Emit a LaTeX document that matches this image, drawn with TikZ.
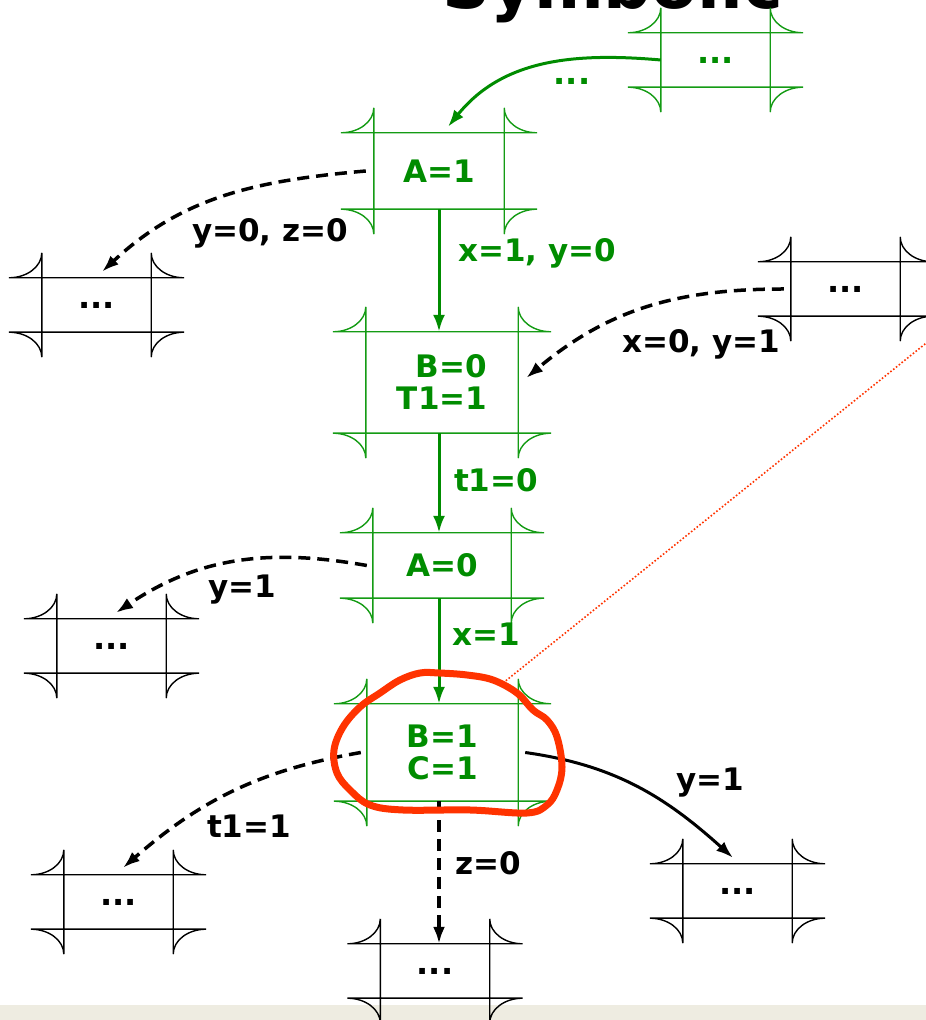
\documentclass[tikz,border=0pt]{standalone}
\usepackage{fontspec}
\setmainfont{DejaVu Sans}
\usetikzlibrary{arrows.meta}

\definecolor{stgreen}{RGB}{0,140,0}
\definecolor{boxgreen}{RGB}{20,155,20}
\definecolor{markred}{RGB}{255,51,0}
\definecolor{slidebg}{RGB}{238,236,225}

\tikzset{
  state/.style={rectangle, inner sep=0pt, align=center,
    font=\fontsize{31}{32}\selectfont\bfseries},
  dots/.style={font=\fontsize{32}{32}\selectfont\bfseries},
  lbl/.style={inner sep=0pt, anchor=base,
    font=\fontsize{31}{32}\selectfont\bfseries},
  flow/.style={stgreen, line width=3pt, -{Latex[length=17pt,width=12pt]}},
  guard/.style={black, line width=3.5pt, dash pattern=on 12pt off 7pt,
    -{Latex[length=17pt,width=12pt]}},
  solidarrow/.style={black, line width=3pt, -{Latex[length=17pt,width=12pt]}},
  scribble/.style={markred, line width=7pt, line join=round}
}

% frame of a state: crossing lines with rounded corners outside
\newcommand{\stframe}[2]{%
  \draw[#2, line width=1.4pt]
    ([xshift=-33pt]#1.north west) -- ([xshift=33pt]#1.north east)
    ([xshift=-33pt]#1.south west) -- ([xshift=33pt]#1.south east)
    ([yshift=25pt]#1.north west) -- ([yshift=-25pt]#1.south west)
    ([yshift=25pt]#1.north east) -- ([yshift=-25pt]#1.south east)
    ([xshift=-33pt]#1.north west) arc[start angle=270, end angle=360, x radius=33pt, y radius=25pt]
    ([xshift=33pt]#1.north east) arc[start angle=270, end angle=180, x radius=33pt, y radius=25pt]
    ([xshift=-33pt]#1.south west) arc[start angle=90, end angle=0, x radius=33pt, y radius=25pt]
    ([xshift=33pt]#1.south east) arc[start angle=90, end angle=180, x radius=33pt, y radius=25pt];
}

\begin{document}
\begin{tikzpicture}[x=1pt, y=1pt]
    \useasboundingbox (0,0) rectangle (926,1020);
    \clip (0,0) rectangle (926,1020);
    \fill[slidebg] (0,0) rectangle (926,15);

    \node[inner sep=0pt, anchor=base west, font=\fontsize{67}{67}\selectfont\bfseries] (title) at (442,1011) {Symbolic};

    % states on the path
    \node[state, text=stgreen, minimum width=109pt, minimum height=54pt, dots] (prev) at (715.5,960) {...};
    \node[state, text=stgreen, minimum width=130pt, minimum height=76pt] (a1) at (439,849) {A=1};
    \node[state, text=stgreen, minimum width=152pt, minimum height=101pt, align=right] (b0) at (442,637.5) {B=0\\T1=1};
    \node[state, text=stgreen, minimum width=138pt, minimum height=65pt] (a0) at (442,454.5) {A=0};
    \node[state, text=stgreen, minimum width=151pt, minimum height=97pt] (b1) at (442.5,267.5) {B=1\\C=1};
    \stframe{prev}{boxgreen}
    \stframe{a1}{boxgreen}
    \stframe{b0}{boxgreen}
    \stframe{a0}{boxgreen}
    \stframe{b1}{boxgreen}

    % other states
    \node[state, minimum width=109pt, minimum height=54pt, dots] (outA) at (96.5,715) {...};
    \node[state, minimum width=109pt, minimum height=54pt, dots] (inB) at (845.5,731) {...};
    \node[state, minimum width=109pt, minimum height=54pt, dots] (outC) at (111.5,374) {...};
    \node[state, minimum width=109pt, minimum height=54pt, dots] (outD) at (118.5,118) {...};
    \node[state, minimum width=109pt, minimum height=54pt, dots] (outE) at (737.5,129) {...};
    \node[state, minimum width=109pt, minimum height=54pt, dots] (outF) at (435,49) {...};
    \stframe{outA}{black}
    \stframe{inB}{black}
    \stframe{outC}{black}
    \stframe{outD}{black}
    \stframe{outE}{black}
    \stframe{outF}{black}

    % transitions
    \draw[flow] (prev.west) to[out=175, in=51] ([xshift=9pt,yshift=6pt]a1.north);
    \draw[guard] ([xshift=-8pt]a1.west) to[out=185, in=43] ([xshift=5.5pt,yshift=6pt]outA.north);
    \draw[flow] (a1.south) -- (a1.south |- b0.north);
    \draw[guard] ([xshift=-7pt]inB.west) to[out=180, in=40] ([xshift=8pt,yshift=4.5pt]b0.east);
    \draw[flow] (b0.south -| a1.south) -- (a0.north -| a1.south);
    \draw[guard] ([xshift=-6pt]a0.west) to[out=170, in=34] ([xshift=4.5pt,yshift=6pt]outC.north);
    \draw[flow] (a0.south -| a1.south) -- (b1.north -| a1.south);
    \draw[guard] ([xshift=-6pt]b1.west) to[out=190, in=41] ([xshift=4.5pt,yshift=7pt]outD.north);
    \draw[solidarrow] ([xshift=7pt]b1.east) to[out=-8, in=138] ([xshift=-4.5pt,yshift=6pt]outE.north);
    \draw[guard] (b1.south -| a1.south) -- (outF.north -| a1.south);

    % guards
    \node[lbl, text=stgreen, dots] (gPrev) at (572,935) {...};
    \node[lbl] (gA) at (270,778) {y=0, z=0};
    \node[lbl, text=stgreen] (gB) at (537,758) {x=1, y=0};
    \node[lbl] (gIn) at (701,667) {x=0, y=1};
    \node[lbl, text=stgreen] (gT) at (496,528) {t1=0};
    \node[lbl] (gC) at (242,422) {y=1};
    \node[lbl, text=stgreen] (gX) at (486,374) {x=1};
    \node[lbl] (gD) at (249,182) {t1=1};
    \node[lbl] (gE) at (710,229) {y=1};
    \node[lbl] (gF) at (488,145) {z=0};

    % hand marking
    \coordinate (zoomto) at (940,688);
    \draw[markred, dotted, line width=1.6pt] (503,337) -- (zoomto);
    \draw[scribble] plot[smooth cycle, tension=0.6] coordinates {
        (439,347) (420,347) (400,340) (380,327) (360,313) (343,293)
        (334,270) (337,247) (350,230) (370,215) (403,210) (470,210)
        (527,207) (547,215) (557,230) (562,253) (557,283) (547,300)
        (533,310) (517,327) (493,340) (467,345)};
\end{tikzpicture}
\end{document}
